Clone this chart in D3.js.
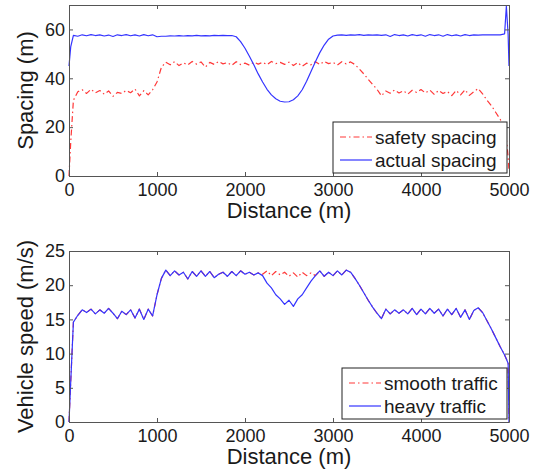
<!DOCTYPE html>
<html>
<head>
<meta charset="utf-8">
<script src="https://cdn.jsdelivr.net/npm/d3@7"></script>
<style>
  html, body { margin: 0; padding: 0; background: #fff; }
  svg { display: block; font-family: "Liberation Sans", Arial, sans-serif; }
</style>
</head>
<body>
<div id="chart"></div>
<script>
// Data
const distance = [0, 20, 50, 100, 150, 200, 250, 300, 350, 400, 450, 500, 550, 600, 650, 700, 750, 800, 850, 900, 950,
  1000, 1050, 1100, 1150, 1200, 1250, 1300, 1350, 1400, 1450, 1500, 1550, 1600, 1650, 1700, 1750, 1800, 1850, 1900, 1950,
  2000, 2050, 2100, 2150, 2200, 2250, 2300, 2350, 2400, 2450, 2500, 2550, 2600, 2650, 2700, 2750, 2800, 2850, 2900, 2950,
  3000, 3050, 3100, 3150, 3200, 3250, 3300, 3350, 3400, 3450, 3500, 3550, 3600, 3650, 3700, 3750, 3800, 3850, 3900, 3950,
  4000, 4050, 4100, 4150, 4200, 4250, 4300, 4350, 4400, 4450, 4500, 4550, 4600, 4650, 4700, 4750, 4800, 4850, 4900, 4950,
  4970, 4990, 5000];

const safetySpacing = [0, 14, 31, 34.5, 35.3, 33.8, 35.5, 34.0, 35.0, 33.5, 34.8, 32.6, 34.2, 33.8, 35.0, 34.1, 35.6, 32.8, 34.9, 33.2, 35.3,
  38.5, 44.5, 46.6, 45.5, 46.8, 45.2, 46.3, 45.5, 46.9, 45.8, 46.7, 44.6, 46.5, 45.7, 46.9, 45.9, 46.4, 45.3, 46.8, 45.6,
  46.2, 45.4, 46.6, 45.8, 46.5, 45.6, 46.9, 46.0, 46.5, 45.7, 46.6, 45.2, 46.4, 44.9, 46.2, 45.5, 46.8, 45.6, 46.9, 46.0,
  46.5, 45.4, 46.8, 45.9, 46.7, 45.6, 43.8, 41.8, 39.6, 37.5, 35.5, 32.8, 34.8, 33.9, 35.2, 34.0, 34.9, 33.5, 35.1, 34.2,
  35.4, 34.0, 35.2, 33.4, 35.0, 33.8, 34.6, 32.9, 35.0, 33.2, 35.3, 33.0, 34.5, 35.8, 33.6, 31.0, 28.8, 26.0, 23.2, 19.5,
  15, 8, 2];

const actualSpacing = [45, 53, 57.6, 57.2, 57.8, 57.4, 57.9, 57.5, 57.8, 57.3, 57.7, 57.1, 57.8, 57.5, 57.9, 57.4, 57.8, 57.3, 57.9, 57.4, 57.8,
  57.0, 57.2, 57.2, 57.4, 57.3, 57.5, 57.3, 57.5, 57.4, 57.6, 57.4, 57.5, 57.4, 57.6, 57.5, 57.6, 57.5, 57.5, 57.0, 55.0,
  52.3, 49.0, 45.5, 41.8, 38.5, 35.5, 33.2, 31.6, 30.6, 30.3, 30.4, 31.2, 32.8, 35.3, 38.8, 42.8, 46.8, 50.5, 53.6, 56.0,
  57.3, 57.7, 57.8, 57.6, 57.8, 57.7, 57.9, 57.6, 57.8, 57.7, 57.8, 57.6, 57.8, 57.1, 57.9, 57.5, 57.8, 57.3, 57.9, 57.5,
  57.8, 57.2, 57.9, 57.5, 57.8, 57.2, 57.9, 57.4, 57.8, 57.3, 57.9, 57.5, 57.8, 57.7, 57.8, 57.8, 57.8, 57.8, 57.8, 58.2,
  69.5, 58, 45];

const smoothSpeed = [0, 6, 14.6, 15.6, 16.4, 16.0, 16.5, 15.8, 16.4, 15.9, 16.6, 15.9, 15.1, 16.2, 15.7, 16.4, 15.2, 16.5, 15.0, 16.5, 15.5,
  18.6, 21.0, 22.2, 21.4, 22.1, 21.5, 21.9, 20.9, 22.0, 21.3, 22.1, 21.3, 22.0, 21.1, 21.6, 21.9, 21.3, 22.0, 21.4, 22.1,
  21.6, 21.9, 21.5, 21.8, 21.6, 22.1, 21.4, 22.0, 21.5, 21.9, 21.3, 21.8, 21.2, 21.9, 21.4, 21.8, 21.4, 22.1, 21.3, 21.9,
  21.4, 22.1, 21.5, 22.2, 21.9, 21.0, 20.0, 18.9, 17.8, 16.8, 15.9, 15.1, 16.5, 15.8, 16.4, 15.9, 16.4, 15.8, 16.6, 15.7,
  16.5, 15.8, 16.6, 15.9, 16.5, 15.5, 16.5, 15.7, 16.6, 15.3, 16.4, 15.0, 16.3, 16.7, 16.0, 14.8, 13.6, 12.3, 11.0, 9.8,
  9.2, 8.6, 0];

const heavySpeed = [0, 6, 14.6, 15.6, 16.4, 16.0, 16.5, 15.8, 16.4, 15.9, 16.6, 15.9, 15.1, 16.2, 15.7, 16.4, 15.2, 16.5, 15.0, 16.5, 15.5,
  18.6, 21.0, 22.2, 21.4, 22.1, 21.5, 21.9, 20.9, 22.0, 21.3, 22.1, 21.3, 22.0, 21.1, 21.6, 21.9, 21.3, 22.0, 21.4, 22.1,
  21.6, 21.9, 21.5, 21.8, 21.4, 20.3, 19.6, 18.6, 18.0, 17.2, 17.8, 16.9, 18.0, 18.6, 19.6, 20.6, 21.4, 22.1, 21.3, 21.9,
  21.4, 22.1, 21.5, 22.2, 21.9, 21.0, 20.0, 18.9, 17.8, 16.8, 15.9, 15.1, 16.5, 15.8, 16.4, 15.9, 16.4, 15.8, 16.6, 15.7,
  16.5, 15.8, 16.6, 15.9, 16.5, 15.5, 16.5, 15.7, 16.6, 15.3, 16.4, 15.0, 16.3, 16.7, 16.0, 14.8, 13.6, 12.3, 11.0, 9.8,
  9.2, 8.6, 0];

const xTicks = [0, 1000, 2000, 3000, 4000, 5000];
const spacingTicks = [0, 20, 40, 60];
const speedTicks = [0, 5, 10, 15, 20, 25];

// Layout
const W = 538, H = 470;
const LEFT = 69, RIGHT = 509;
const RED = "#ff3838", BLUE = "#3434ff", FRAME = "#555";
const DASHDOT = "6,3,1.5,3";

const svg = d3.select("#chart").append("svg")
  .attr("width", W).attr("height", H)
  .style("background", "#fff");

function panel(cfg) {
  const x = d3.scaleLinear().domain([0, 5000]).range([LEFT, RIGHT]);
  const y = d3.scaleLinear().domain(cfg.yDomain).range([cfg.bottom, cfg.top]);
  const g = svg.append("g");

  // lines
  const line = (vals) => d3.line()
    .x((d, i) => x(distance[i]))
    .y(d => y(d))(vals);
  cfg.series.forEach(s => {
    g.append("path")
      .attr("d", line(s.values))
      .attr("fill", "none")
      .attr("stroke", s.color)
      .attr("stroke-width", 1.2)
      .attr("stroke-dasharray", s.dash || null)
      .attr("stroke-linejoin", "round");
  });

  // axes, matlab style box with inward ticks
  const axes = [
    [d3.axisBottom(x).tickValues(xTicks).tickFormat(d3.format("d")), `translate(0,${cfg.bottom})`],
    [d3.axisTop(x).tickValues(xTicks).tickFormat(""), `translate(0,${cfg.top})`],
    [d3.axisLeft(y).tickValues(cfg.yTicks).tickFormat(d3.format("d")), `translate(${LEFT},0)`],
    [d3.axisRight(y).tickValues(cfg.yTicks).tickFormat(""), `translate(${RIGHT},0)`]
  ];
  axes.forEach(([ax, tr], i) => {
    const a = g.append("g").attr("transform", tr)
      .call(ax.tickSizeInner(-4).tickSizeOuter(0).tickPadding(i === 0 ? 7 : 4));
    a.select(".domain").attr("stroke", FRAME);
    a.selectAll(".tick line").attr("stroke", FRAME);
    a.selectAll(".tick text")
      .attr("fill", "#1a1a1a")
      .style("font-size", "18px")
      .style("font-family", "'Liberation Sans', Arial, sans-serif");
  });

  // axis labels
  g.append("text")
    .attr("x", (LEFT + RIGHT) / 2)
    .attr("y", cfg.bottom + 42)
    .attr("text-anchor", "middle")
    .attr("fill", "#1a1a1a")
    .style("font-size", "22px")
    .text("Distance (m)");
  g.append("text")
    .attr("transform", `translate(33,${(cfg.top + cfg.bottom) / 2}) rotate(-90)`)
    .attr("text-anchor", "middle")
    .attr("fill", "#1a1a1a")
    .style("font-size", "22px")
    .text(cfg.yLabel);

  // legend
  const L = cfg.legend;
  const lg = g.append("g");
  lg.append("rect")
    .attr("x", L.x0).attr("y", L.y0)
    .attr("width", RIGHT - 2 - L.x0).attr("height", 51)
    .attr("fill", "#fff").attr("stroke", "#222").attr("stroke-width", 1);
  cfg.series.forEach((s, i) => {
    const cy = L.y0 + 15 + i * 23;
    lg.append("line")
      .attr("x1", L.x0 + 7).attr("x2", L.x0 + 39)
      .attr("y1", cy).attr("y2", cy)
      .attr("stroke", s.color).attr("stroke-width", 1.2)
      .attr("stroke-dasharray", s.dash || null);
    lg.append("text")
      .attr("x", L.x0 + 42).attr("y", cy)
      .attr("dy", "0.35em")
      .attr("fill", "#1a1a1a")
      .style("font-size", "19px")
      .text(s.name);
  });
}

panel({
  top: 5, bottom: 176, yDomain: [0, 70], yTicks: spacingTicks,
  yLabel: "Spacing (m)",
  series: [
    { name: "safety spacing", values: safetySpacing, color: RED, dash: DASHDOT },
    { name: "actual spacing", values: actualSpacing, color: BLUE }
  ],
  legend: { x0: 333, y0: 122 }
});

panel({
  top: 251, bottom: 422, yDomain: [0, 25], yTicks: speedTicks,
  yLabel: "Vehicle speed (m/s)",
  series: [
    { name: "smooth traffic", values: smoothSpeed, color: RED, dash: DASHDOT },
    { name: "heavy traffic", values: heavySpeed, color: BLUE }
  ],
  legend: { x0: 342, y0: 368 }
});
</script>
</body>
</html>
